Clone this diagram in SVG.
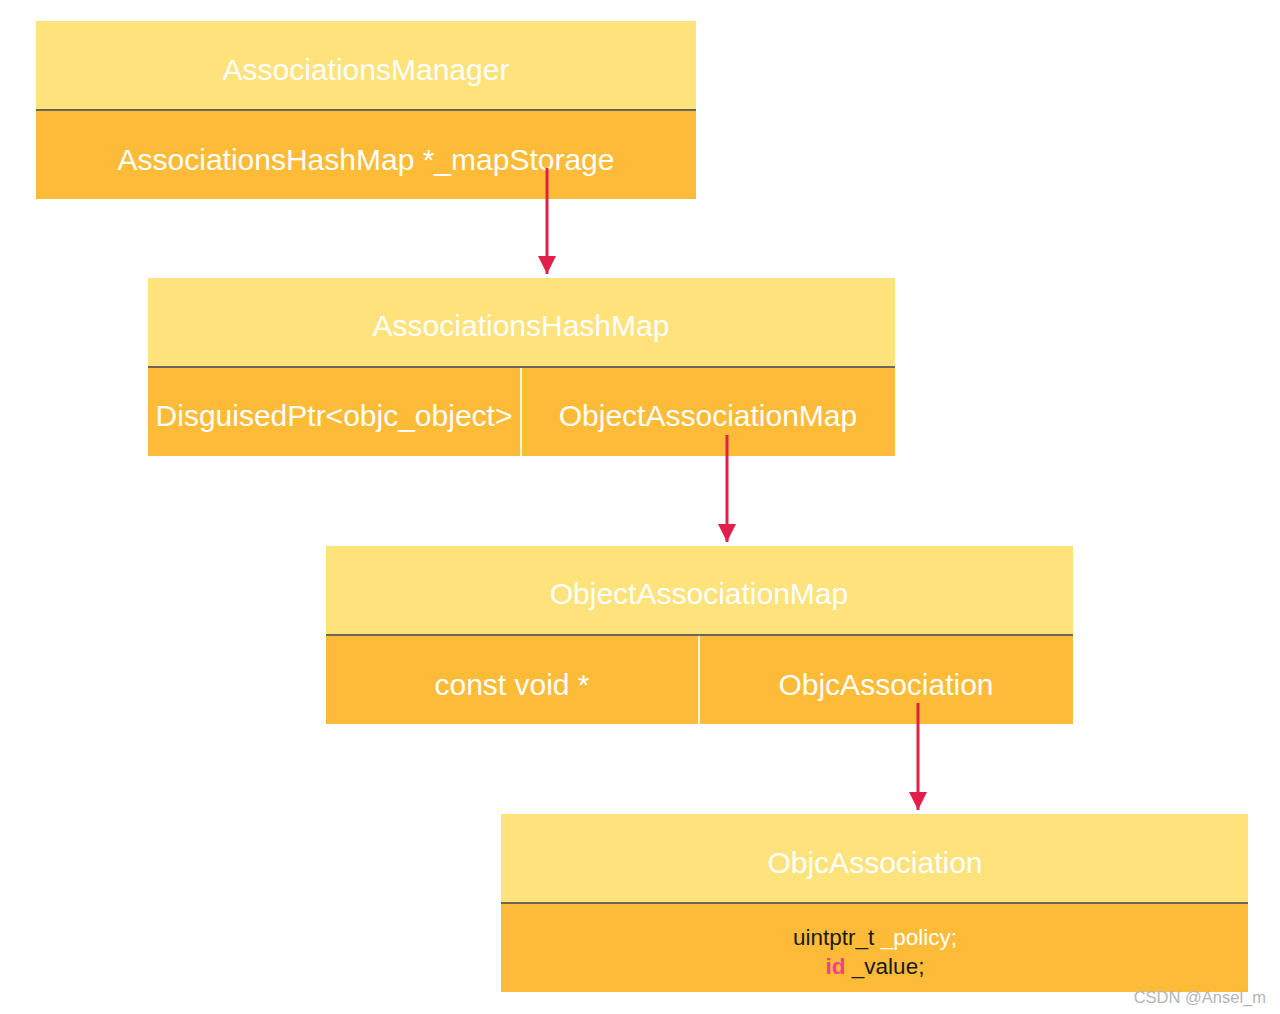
<svg xmlns="http://www.w3.org/2000/svg" width="1280" height="1014" viewBox="0 0 1280 1014">
<style>
.hd{fill:#FEE27B}
.bd{fill:#FDBB37}
.div{stroke:#6b6658;stroke-width:2}
.vdiv{stroke:#FFF4D6;stroke-width:2}
.t{font-family:"Liberation Sans",Arial,sans-serif;font-size:30px;fill:#ffffff;text-anchor:middle}
.c{font-family:"Liberation Sans",Arial,sans-serif;font-size:22.5px;fill:#1a1a1a;text-anchor:middle}
.conn{stroke:#E0204A;stroke-width:3;fill:none}
</style>
<defs>
<marker id="ah" viewBox="0 0 10 10" refX="10" refY="5" markerWidth="6" markerHeight="6" markerUnits="strokeWidth" orient="auto">
<path d="M0,0 L10,5 L0,10 z" fill="#E0204A"/>
</marker>
</defs>
<rect width="1280" height="1014" fill="#ffffff"/>
<g id="node-manager">
<rect class="hd" x="36" y="21" width="660" height="89"/>
<rect class="bd" x="36" y="110" width="660" height="89"/>
<line class="div" x1="36" y1="110" x2="696" y2="110"/>
<text class="t" x="366" y="80">AssociationsManager</text>
<text class="t" x="366" y="170">AssociationsHashMap *_mapStorage</text>
</g>
<g id="node-hashmap">
<rect class="hd" x="148" y="278" width="747" height="89"/>
<rect class="bd" x="148" y="367" width="747" height="89"/>
<line class="div" x1="148" y1="367" x2="895" y2="367"/>
<line class="vdiv" x1="521" y1="368" x2="521" y2="456"/>
<text class="t" x="521" y="336">AssociationsHashMap</text>
<text class="t" x="334" y="426">DisguisedPtr&lt;objc_object&gt;</text>
<text class="t" x="708" y="426">ObjectAssociationMap</text>
</g>
<g id="node-objmap">
<rect class="hd" x="326" y="546" width="747" height="89"/>
<rect class="bd" x="326" y="635" width="747" height="89"/>
<line class="div" x1="326" y1="635" x2="1073" y2="635"/>
<line class="vdiv" x1="699" y1="636" x2="699" y2="724"/>
<text class="t" x="699" y="604">ObjectAssociationMap</text>
<text class="t" x="512" y="695">const void *</text>
<text class="t" x="886" y="695">ObjcAssociation</text>
</g>
<g id="node-objcassoc">
<rect class="hd" x="501" y="814" width="747" height="89"/>
<rect class="bd" x="501" y="903" width="747" height="89"/>
<line class="div" x1="501" y1="903" x2="1248" y2="903"/>
<text class="t" x="875" y="873">ObjcAssociation</text>
<text class="c" x="875" y="945">uintptr_t <tspan fill="#ffffff">_policy;</tspan></text>
<text class="c" x="875" y="974"><tspan fill="#F2418A" font-weight="bold">id</tspan> _value;</text>
</g>
<g id="connectors">
<line class="conn" x1="547" y1="168" x2="547" y2="274" marker-end="url(#ah)"/>
<line class="conn" x1="727" y1="435" x2="727" y2="542" marker-end="url(#ah)"/>
<line class="conn" x1="918" y1="703" x2="918" y2="810" marker-end="url(#ah)"/>
</g>
<text x="1266" y="1003" font-family="Liberation Sans,Arial,sans-serif" font-size="16.5" fill="#b5b5b5" text-anchor="end">CSDN @Ansel_m</text>
</svg>
